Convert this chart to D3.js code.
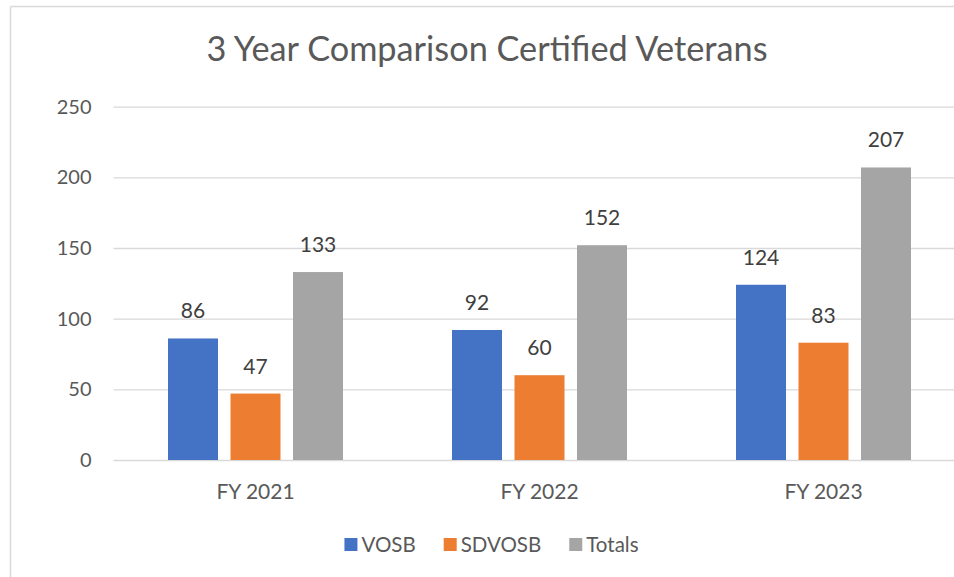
<!DOCTYPE html>
<html>
<head>
<meta charset="utf-8">
<script src="https://cdn.jsdelivr.net/npm/d3@7"></script>
<style>
  html, body { margin: 0; padding: 0; background: #fff; }
  svg { display: block; font-family: Lato, "Open Sans", sans-serif; }
</style>
</head>
<body>
<svg id="chart" width="954" height="577"></svg>
<script>
const title = "3 Year Comparison Certified Veterans";
const categories = ["FY 2021", "FY 2022", "FY 2023"];
const seriesNames = ["VOSB", "SDVOSB", "Totals"];
const vosb = [86, 92, 124];
const sdvosb = [47, 60, 83];
const totals = [133, 152, 207];
const yTicks = [0, 50, 100, 150, 200, 250];
const colors = ["#4472C4", "#ED7D31", "#A5A5A5"];

const seriesValues = [vosb, sdvosb, totals];
const data = categories.map((c, i) => ({
  category: c,
  values: seriesNames.map((s, j) => ({ series: s, value: seriesValues[j][i], color: colors[j] }))
}));

const svg = d3.select("#chart");
const W = 954, H = 577;
const plot = { left: 113.5, right: 965.5, top: 106.7, bottom: 460 };
const textColor = "#595959";
const gridColor = "#D9D9D9";

// chart frame (top and left edges visible)
svg.append("line").attr("x1", 10.5).attr("x2", W).attr("y1", 6.5).attr("y2", 6.5)
  .attr("stroke", "#D9D9D9").attr("stroke-width", 1.5);
svg.append("line").attr("x1", 10.5).attr("x2", 10.5).attr("y1", 6.5).attr("y2", H)
  .attr("stroke", "#D9D9D9").attr("stroke-width", 1.5);

// title
svg.append("text")
  .attr("x", 487).attr("y", 61)
  .attr("text-anchor", "middle")
  .attr("fill", textColor)
  .attr("font-size", 34.3)
  .attr("font-weight", 400)
  .text(title);

const y = d3.scaleLinear().domain([0, 250]).range([plot.bottom, plot.top]);
const x0 = d3.scaleBand().domain(categories).range([plot.left, plot.right]).padding(0);
const groupW = 175;
const x1 = d3.scaleBand().domain(seriesNames).range([0, groupW]).paddingInner(0.2).paddingOuter(0);
const groupOffset = (x0.bandwidth() - groupW) / 2;

// gridlines
const yAxis = d3.axisLeft(y).tickValues(yTicks).tickSize(-(plot.right - plot.left)).tickPadding(22);
const gy = svg.append("g").attr("transform", `translate(${plot.left},0)`).call(yAxis);
gy.select(".domain").remove();
gy.selectAll(".tick line").attr("stroke", gridColor).attr("stroke-width", 1.3);
gy.selectAll(".tick text")
  .attr("fill", textColor)
  .attr("font-size", 20)
  .attr("font-family", "Lato, 'Open Sans', sans-serif");

// category axis
const xAxis = d3.axisBottom(x0).tickSize(0).tickPadding(24);
const gx = svg.append("g").attr("transform", `translate(0,${plot.bottom})`).call(xAxis);
gx.select(".domain").remove();
gx.selectAll(".tick text")
  .attr("fill", textColor)
  .attr("font-size", 21)
  .attr("font-family", "Lato, 'Open Sans', sans-serif");

// bars
const groups = svg.append("g").selectAll("g").data(data).join("g")
  .attr("transform", d => `translate(${x0(d.category) + groupOffset},0)`);

groups.selectAll("rect").data(d => d.values).join("rect")
  .attr("x", d => x1(d.series))
  .attr("y", d => y(d.value))
  .attr("width", x1.bandwidth())
  .attr("height", d => y(0) - y(d.value))
  .attr("fill", d => d.color);

groups.selectAll("text").data(d => d.values).join("text")
  .attr("x", d => x1(d.series) + x1.bandwidth() / 2)
  .attr("y", d => y(d.value) - 20)
  .attr("text-anchor", "middle")
  .attr("fill", "#404040")
  .attr("font-size", 21)
  .text(d => d.value);

// legend
const legend = svg.append("g");
const items = legend.selectAll("g").data(seriesNames).join("g");
items.append("rect").attr("width", 13).attr("height", 13).attr("y", 538)
  .attr("fill", (d, i) => colors[i]);
items.append("text").attr("y", 552).attr("fill", textColor).attr("font-size", 20.5).text(d => d);
let cursor = 0;
items.each(function () {
  const g = d3.select(this);
  const tw = g.select("text").node().getComputedTextLength();
  g.select("rect").attr("x", cursor);
  g.select("text").attr("x", cursor + 17);
  cursor += 17 + tw + 28;
});
const totalW = cursor - 28;
legend.attr("transform", `translate(${491.5 - totalW / 2},0)`);
</script>
</body>
</html>
